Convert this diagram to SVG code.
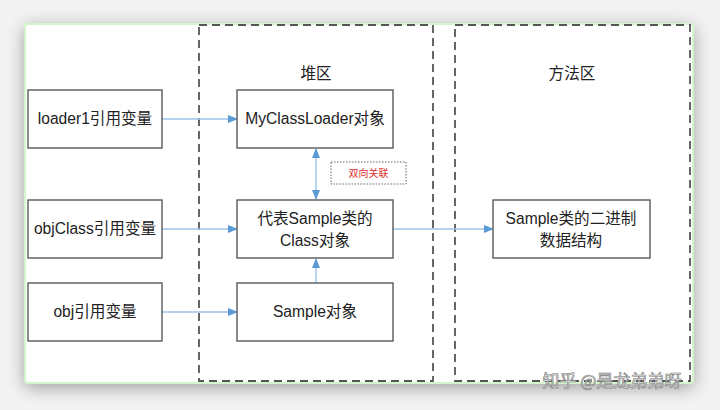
<svg xmlns="http://www.w3.org/2000/svg" width="720" height="410" viewBox="0 0 720 410">
<defs>
<filter id="sh" x="-10%" y="-15%" width="120%" height="130%">
<feGaussianBlur in="SourceAlpha" stdDeviation="9"/>
<feOffset dx="0" dy="4"/>
<feComponentTransfer><feFuncA type="linear" slope="0.35"/></feComponentTransfer>
<feMerge><feMergeNode/><feMergeNode in="SourceGraphic"/></feMerge>
</filter>
<marker id="ah" markerWidth="10" markerHeight="8" refX="9" refY="4" orient="auto" markerUnits="userSpaceOnUse">
<path d="M0,0 L10,4 L0,8 Z" fill="#5b9bd5"/>
</marker>
<marker id="as" markerWidth="10" markerHeight="8" refX="1" refY="4" orient="auto" markerUnits="userSpaceOnUse">
<path d="M10,0 L0,4 L10,8 Z" fill="#5b9bd5"/>
</marker>
</defs>
<style>
.box{fill:#fff;stroke:#595959;stroke-width:1.4}
.t{font-family:"Liberation Sans","Noto Sans CJK SC",sans-serif;font-size:15.6px;fill:#222;text-anchor:middle}
.region{fill:none;stroke:#555;stroke-width:1.8;stroke-dasharray:8,5}
.c{stroke:#9cc3e8;stroke-width:1.4;fill:none}
</style>
<rect width="720" height="410" fill="#f3f3f3"/>
<rect x="25" y="24" width="668" height="359" rx="3" fill="#fff" stroke="#d4f5cc" stroke-width="2" filter="url(#sh)"/>
<g id="heap-region">
<rect class="region" x="199" y="25" width="234" height="356"/>
<text class="t" x="316" y="79">堆区</text>
</g>
<g id="method-region">
<rect class="region" x="455" y="25" width="235" height="356"/>
<text class="t" x="572" y="79">方法区</text>
</g>
<g id="connectors">
<line class="c" x1="162" y1="119" x2="237" y2="119" marker-end="url(#ah)"/>
<line class="c" x1="162" y1="229" x2="237" y2="229" marker-end="url(#ah)"/>
<line class="c" x1="162" y1="312" x2="237" y2="312" marker-end="url(#ah)"/>
<line class="c" x1="393" y1="229" x2="493" y2="229" marker-end="url(#ah)"/>
<line class="c" x1="316" y1="149" x2="316" y2="199" marker-start="url(#as)" marker-end="url(#ah)"/>
<line class="c" x1="316" y1="283" x2="316" y2="259" marker-end="url(#ah)"/>
</g>
<g id="assoc-label">
<rect x="331" y="162" width="75" height="22" fill="#fff" stroke="#666" stroke-width="1" stroke-dasharray="1.5,1.5"/>
<text x="368.5" y="177" text-anchor="middle" font-family="Liberation Sans,'Noto Sans CJK SC',sans-serif" font-size="10" fill="#e03030">双向关联</text>
</g>
<g id="loader1">
<rect class="box" x="28" y="90" width="134" height="58"/>
<text class="t" x="95" y="124">loader1引用变量</text>
</g>
<g id="objClass">
<rect class="box" x="28" y="200" width="134" height="58"/>
<text class="t" x="95" y="234">objClass引用变量</text>
</g>
<g id="obj">
<rect class="box" x="28" y="283" width="134" height="58"/>
<text class="t" x="95" y="317">obj引用变量</text>
</g>
<g id="myclassloader">
<rect class="box" x="237" y="90" width="156" height="58"/>
<text class="t" x="315" y="124">MyClassLoader对象</text>
</g>
<g id="class-object">
<rect class="box" x="237" y="200" width="156" height="58"/>
<text class="t" x="315" y="224">代表Sample类的</text>
<text class="t" x="315" y="246">Class对象</text>
</g>
<g id="sample-object">
<rect class="box" x="237" y="283" width="156" height="58"/>
<text class="t" x="315" y="317">Sample对象</text>
</g>
<g id="binary">
<rect class="box" x="493" y="200" width="157" height="58"/>
<text class="t" x="571" y="224">Sample类的二进制</text>
<text class="t" x="571" y="246">数据结构</text>
</g>
<text x="612" y="387" text-anchor="middle" font-family="'Noto Sans CJK SC',sans-serif" font-size="17" fill="#e2e2e2" stroke="#7a7a7a" stroke-width="0.6">知乎 @是龙弟弟呀</text>
</svg>
